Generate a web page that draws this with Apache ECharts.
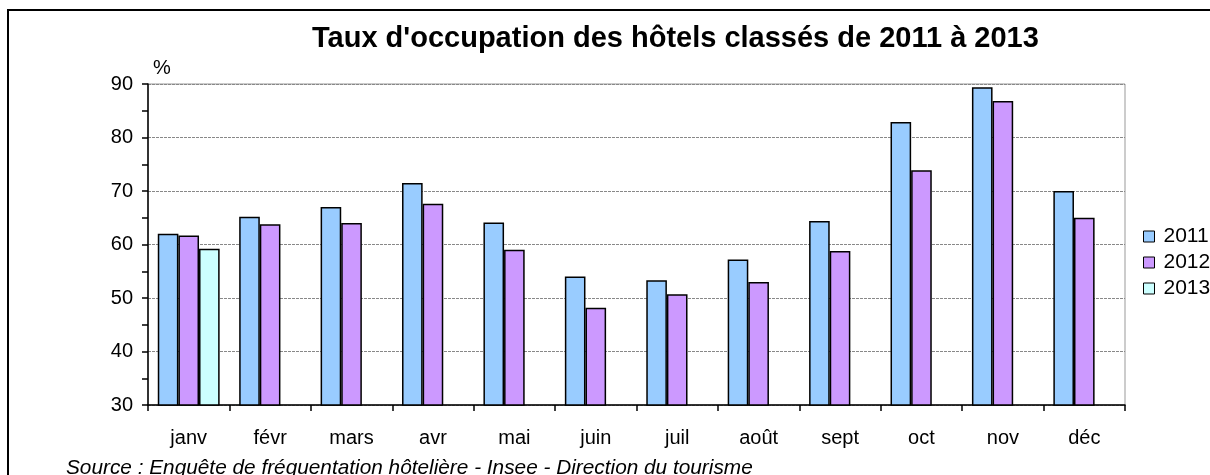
<!DOCTYPE html>
<html>
<head>
	<meta charset="UTF-8">
	<title>Taux d'occupation des hôtels classés</title>
	<script src="https://cdn.jsdelivr.net/npm/echarts@6/dist/echarts.min.js"></script>
	<style>
		html, body { margin: 0; padding: 0; background: #fff; overflow: hidden; }
		#main { width: 1210px; height: 475px; }
	</style>
</head>
<body>
<div id="main"></div>
<script>
	// données
	var months = ['janv', 'févr', 'mars', 'avr', 'mai', 'juin', 'juil', 'août', 'sept', 'oct', 'nov', 'déc'];
	var taux2011 = [62.0, 65.2, 67.0, 71.5, 64.1, 54.0, 53.3, 57.2, 64.4, 82.9, 89.4, 70.0];
	var taux2012 = [61.7, 63.8, 64.0, 67.6, 59.0, 48.2, 50.7, 53.0, 58.8, 73.9, 86.8, 65.0];
	var taux2013 = [59.2, null, null, null, null, null, null, null, null, null, null, null];
	var years = ['2011', '2012', '2013'];
	var colors = ['#99CCFF', '#CC99FF', '#CCFFFF'];

	var font = 'Liberation Sans, Arial, sans-serif';
	var myChart = echarts.init(document.getElementById('main'));

	function barSerie(name, data, color) {
		return {
			name: name,
			type: 'bar',
			data: data,
			barGap: 0,
			barCategoryGap: '24%',
			itemStyle: { color: color, borderColor: '#000', borderWidth: 1.5 }
		};
	}

	var option = {
		animation: false,
		textStyle: { fontFamily: font },
		title: {
			text: "Taux d'occupation des hôtels classés de 2011 à 2013",
			left: 312,
			top: 24,
			padding: 0,
			textStyle: { fontSize: 29, fontWeight: 'bold', color: '#000', fontFamily: font }
		},
		legend: {
			orient: 'vertical',
			left: 1143,
			top: 226,
			padding: 0,
			itemGap: 5,
			itemWidth: 11,
			itemHeight: 11,
			icon: 'rect',
			data: years,
			itemStyle: { borderColor: '#000', borderWidth: 1 },
			textStyle: { fontSize: 21, color: '#000', fontFamily: font, padding: [0, 0, 0, 4] }
		},
		grid: {
			left: 148, right: 85, top: 84, bottom: 70,
			show: true,
			borderColor: '#999',
			borderWidth: 1
		},
		graphic: [{
			type: 'rect',
			shape: { x: 8, y: 10, width: 1300, height: 600 },
			style: { fill: null, stroke: '#000', lineWidth: 2 },
			silent: true
		}, {
			type: 'text',
			left: 66,
			top: 458,
			style: {
				text: 'Source : Enquête de fréquentation hôtelière - Insee - Direction du tourisme',
				font: 'italic 20.8px ' + font,
				fill: '#000'
			}
		}],
		xAxis: {
			type: 'category',
			data: months,
			axisLine: { lineStyle: { color: '#000', width: 1.5 } },
			axisTick: { show: true, length: 6, lineStyle: { color: '#000', width: 1.5 } },
			axisLabel: { fontSize: 20, color: '#000', margin: 23, fontFamily: font }
		},
		yAxis: {
			type: 'value',
			min: 30,
			max: 90,
			interval: 10,
			name: '%',
			nameLocation: 'end',
			nameGap: 6,
			nameTextStyle: { fontSize: 20, color: '#000', align: 'left', padding: [0, 0, 0, 5] },
			axisLine: { show: true, lineStyle: { color: '#000', width: 1.5 } },
			axisTick: { show: true, length: 6, lineStyle: { color: '#000', width: 1.5 } },
			minorTick: { show: true, splitNumber: 2, length: 6, lineStyle: { color: '#000', width: 1.5 } },
			axisLabel: { fontSize: 20, color: '#000', margin: 15, fontFamily: font },
			splitLine: { show: true, lineStyle: { color: '#888', type: [3, 1], width: 1 } }
		},
		series: [
			barSerie(years[0], taux2011, colors[0]),
			barSerie(years[1], taux2012, colors[1]),
			barSerie(years[2], taux2013, colors[2])
		]
	};
	myChart.setOption(option);
</script>
</body>
</html>
